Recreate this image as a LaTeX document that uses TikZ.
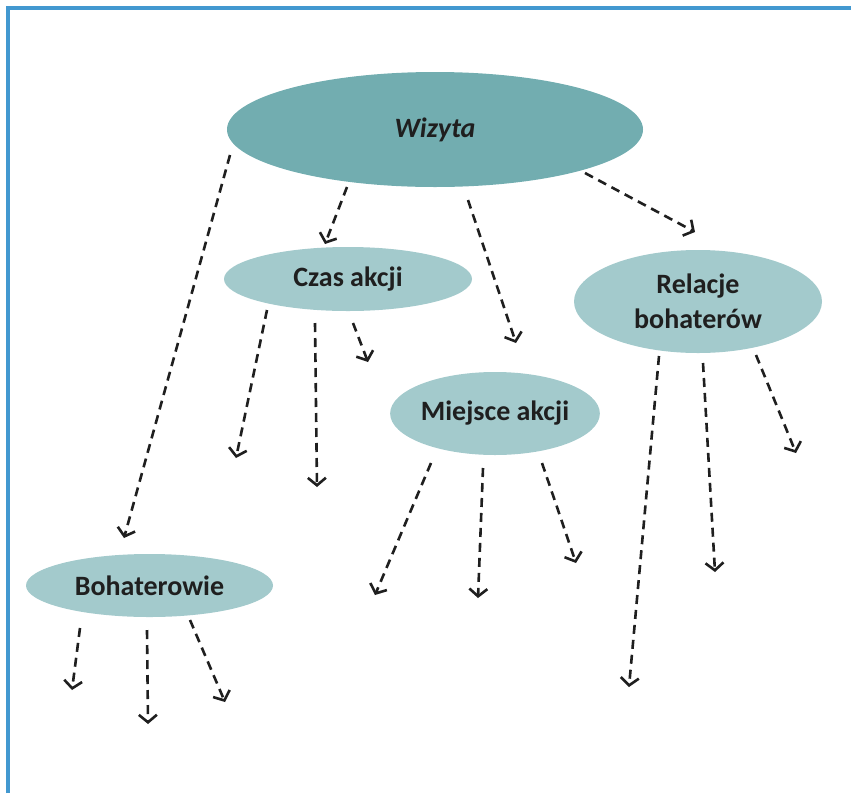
\documentclass[tikz,border=0pt]{standalone}
\usepackage{fontspec}
\setmainfont{Carlito}
\usepackage{tikz}
\usetikzlibrary{arrows.meta}
\usetikzlibrary{shapes.geometric}

\definecolor{frameblue}{RGB}{66,152,208}
\definecolor{darkteal}{RGB}{114,173,176}
\definecolor{lightteal}{RGB}{163,202,204}

\begin{document}
\begin{tikzpicture}[x=1pt, y=-1pt,
  >={Straight Barb[length=7.5pt, width=18pt]},
  dasharrow/.style={->, line width=2.6pt, dash pattern=on 9pt off 6pt, draw=black!88},
  bubble/.style={ellipse, inner sep=0pt, fill=lightteal, text=black!88, align=center,
    font=\fontsize{28}{35}\selectfont\bfseries},]
\useasboundingbox (0,0) rectangle (851,793);
\draw [frameblue, line width=3.5pt] (8,793)--(8,8)--(851,8);
\node[bubble, fill=darkteal, minimum width=416pt, minimum height=115pt] (0) at (435,129.5) {\itshape Wizyta};
\node[bubble, minimum width=248pt, minimum height=64pt] (1) at (348,279) {Czas akcji};
\node[bubble, minimum width=248pt, minimum height=103pt] (2) at (698,301.5) {Relacje\\bohaterów};
\node[bubble, minimum width=204pt, minimum height=83pt] (3) at (495,413.5) {Miejsce akcji};
\node[bubble, minimum width=247pt, minimum height=63pt] (4) at (149.5,585.5) {Bohaterowie};
% ends of the arrows
\coordinate (0a) at (230,155);  \coordinate (0a') at (124,538);
\coordinate (0b) at (347,187);  \coordinate (0b') at (325,244);
\coordinate (0c) at (468,200);  \coordinate (0c') at (516,343);
\coordinate (0d) at (585,173);  \coordinate (0d') at (695,232);
\coordinate (1a) at (267,310);  \coordinate (1a') at (236,458);
\coordinate (1b) at (315,323);  \coordinate (1b') at (317,487);
\coordinate (1c) at (353,323);  \coordinate (1c') at (368,362);
\coordinate (2a) at (659,356);  \coordinate (2a') at (629,687);
\coordinate (2b) at (703,363);  \coordinate (2b') at (715,572);
\coordinate (2c) at (756,355);  \coordinate (2c') at (796,453);
\coordinate (3a) at (431,463);  \coordinate (3a') at (375,595);
\coordinate (3b) at (483,468);  \coordinate (3b') at (478,598);
\coordinate (3c) at (542,463);  \coordinate (3c') at (576,563);
\coordinate (4a) at (80,628);   \coordinate (4a') at (72,690);
\coordinate (4b) at (147,630);  \coordinate (4b') at (148,724);
\coordinate (4c) at (190,620);  \coordinate (4c') at (225,702);
 \draw [dasharrow] (0a)--(0a');
 \draw [dasharrow] (0b)--(0b');
 \draw [dasharrow] (0c)--(0c');
 \draw [dasharrow] (0d)--(0d');
  \draw [dasharrow] (1a)--(1a');
  \draw [dasharrow] (1b)--(1b');
  \draw [dasharrow] (1c)--(1c');
  \draw [dasharrow] (2a)--(2a');
  \draw [dasharrow] (2b)--(2b');
  \draw [dasharrow] (2c)--(2c');
  \draw [dasharrow] (3a)--(3a');
  \draw [dasharrow] (3b)--(3b');
  \draw [dasharrow] (3c)--(3c');
  \draw [dasharrow] (4a)--(4a');
  \draw [dasharrow] (4b)--(4b');
  \draw [dasharrow] (4c)--(4c');
\end{tikzpicture}
\end{document}
